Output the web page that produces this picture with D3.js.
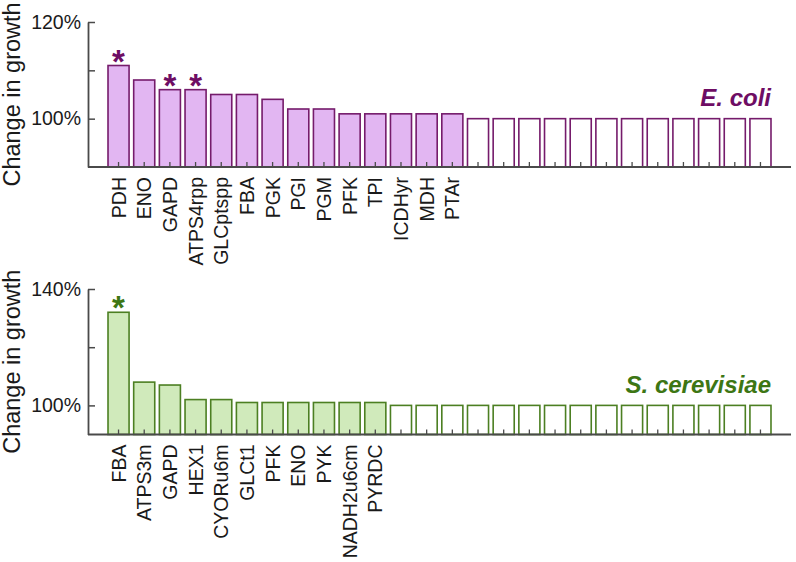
<!DOCTYPE html>
<html>
<head>
<meta charset="utf-8">
<script src="https://cdn.jsdelivr.net/npm/d3@7"></script>
<style>
  html, body { margin: 0; padding: 0; background: #fff; }
  svg { display: block; font-family: "Liberation Sans", Arial, Helvetica, sans-serif; }
</style>
</head>
<body>
<svg id="chart" width="796" height="562"></svg>
<script>
// ---- data ----
const ecoliLabels = ["PDH","ENO","GAPD","ATPS4rpp","GLCptspp","FBA","PGK","PGI","PGM","PFK","TPI","ICDHyr","MDH","PTAr",
  "","","","","","","","","","","",""];
const ecoliValues = [111,108,106,106,105,105,104,102,102,101,101,101,101,101,
  100,100,100,100,100,100,100,100,100,100,100,100];
const ecoliSignificant = ["PDH","GAPD","ATPS4rpp"];
const ecoliTicks = [100,110,120];
const ecoliTickLabels = ["100%","","120%"];

const yeastLabels = ["FBA","ATPS3m","GAPD","HEX1","CYORu6m","GLCt1","PFK","ENO","PYK","NADH2u6cm","PYRDC",
  "","","","","","","","","","","","","","",""];
const yeastValues = [132,108,107,102,102,101,101,101,101,101,101,
  100,100,100,100,100,100,100,100,100,100,100,100,100,100,100];
const yeastSignificant = ["FBA"];
const yeastTicks = [100,120,140];
const yeastTickLabels = ["100%","","140%"];

const panels = [
  { labels: ecoliLabels, values: ecoliValues, sig: ecoliSignificant, ticks: ecoliTicks, tickLabels: ecoliTickLabels,
    domain: [90,120], top: 22, bottom: 167, name: "E. coli",
    fill: "#e2b6f2", stroke: "#751b6b", text: "#6e0d64", nameY: 106 },
  { labels: yeastLabels, values: yeastValues, sig: yeastSignificant, ticks: yeastTicks, tickLabels: yeastTickLabels,
    domain: [90,140], top: 289, bottom: 434.5, name: "S. cerevisiae",
    fill: "#d0eabb", stroke: "#4c7f22", text: "#3d7614", nameY: 393 }
];

const svg = d3.select("#chart");
const axisColor = "#4a4a4a";
const xLeft = 88, xRight = 791;

panels.forEach(p => {
  const n = p.values.length;
  const x = d3.scaleBand().domain(d3.range(n)).range([105.7, 773.3]).paddingInner(0.18).paddingOuter(0.09);
  const y = d3.scaleLinear().domain(p.domain).range([p.bottom, p.top]);
  const g = svg.append("g");

  // bars
  g.selectAll("rect.bar").data(p.values).enter().append("rect")
    .attr("x", (d,i) => x(i))
    .attr("width", x.bandwidth())
    .attr("y", d => y(d))
    .attr("height", d => y(p.domain[0]) - y(d))
    .attr("fill", (d,i) => p.labels[i] ? p.fill : "#ffffff")
    .attr("stroke", p.stroke)
    .attr("stroke-width", 1.6);

  // significance asterisks
  g.selectAll("text.star").data(p.values.map((v,i)=>({v,i})).filter(o => p.sig.includes(p.labels[o.i])))
    .enter().append("text")
    .attr("x", o => x(o.i) + x.bandwidth()/2)
    .attr("y", o => y(o.v) + 7)
    .attr("text-anchor", "middle")
    .attr("font-size", 33)
    .attr("font-weight", "bold")
    .attr("fill", p.text)
    .text("*");

  // x axis (inward ticks)
  const xAxis = d3.axisBottom(x).tickSize(-5).tickSizeOuter(0).tickPadding(10)
    .tickFormat(i => p.labels[i]);
  const gx = g.append("g").attr("transform", `translate(0,${p.bottom})`).call(xAxis);
  gx.select(".domain").remove();
  gx.selectAll(".tick line").attr("stroke", axisColor).attr("stroke-width", 1.3);
  gx.selectAll(".tick text")
    .attr("transform", "rotate(-90)")
    .attr("x", -10).attr("y", 0).attr("dy", "0.36em")
    .attr("text-anchor", "end")
    .attr("font-size", 19.5)
    .attr("fill", "#1a1a1a");
  g.append("line").attr("x1", xLeft).attr("x2", xRight).attr("y1", p.bottom).attr("y2", p.bottom)
    .attr("stroke", axisColor).attr("stroke-width", 1.8);

  // y axis (inward ticks)
  const yAxis = d3.axisLeft(y).tickValues(p.ticks).tickSize(-7).tickSizeOuter(0).tickPadding(7)
    .tickFormat((d,i) => p.tickLabels[i]);
  const gy = g.append("g").attr("transform", `translate(${xLeft},0)`).call(yAxis);
  gy.select(".domain").attr("stroke", axisColor).attr("stroke-width", 1.8);
  gy.selectAll(".tick line").attr("stroke", axisColor).attr("stroke-width", 1.5);
  gy.selectAll(".tick text").attr("font-size", 19.5).attr("fill", "#1a1a1a");

  // y label
  g.append("text")
    .attr("transform", `translate(20,${(p.top + p.bottom)/2}) rotate(-90)`)
    .attr("text-anchor", "middle")
    .attr("font-size", 23.5)
    .attr("fill", "#1a1a1a")
    .text("Change in growth");

  // organism name
  g.append("text")
    .attr("x", 771).attr("y", p.nameY)
    .attr("text-anchor", "end")
    .attr("font-size", 24)
    .attr("font-weight", "bold")
    .attr("font-style", "italic")
    .attr("fill", p.text)
    .text(p.name);
});
</script>
</body>
</html>
